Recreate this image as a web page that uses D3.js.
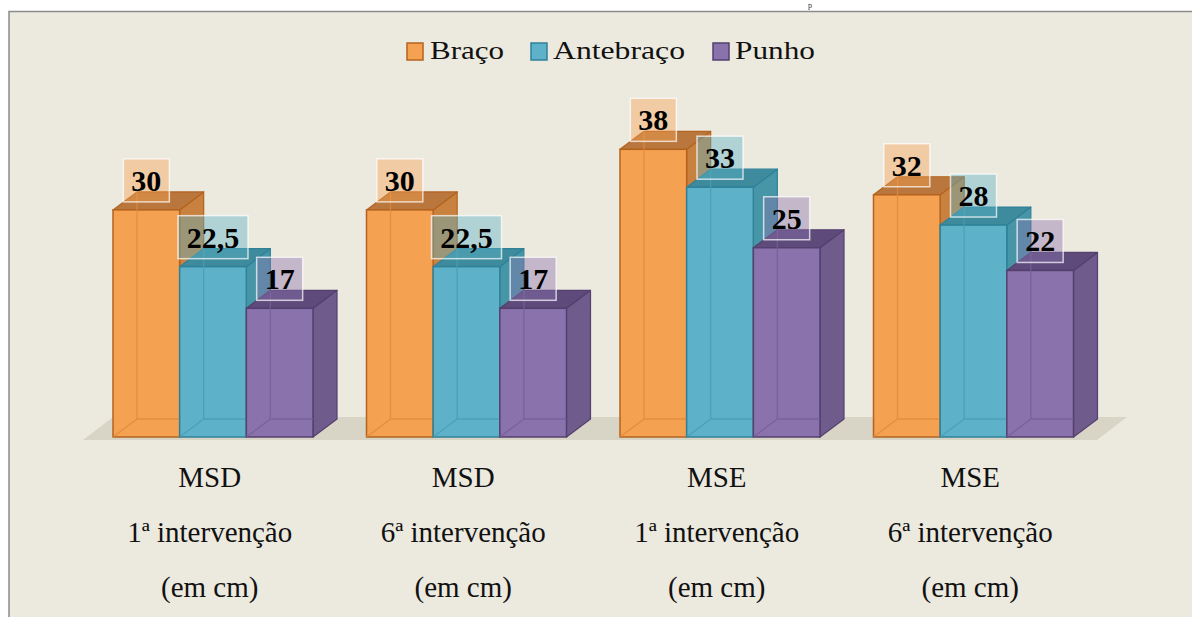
<!DOCTYPE html>
<html>
<head>
<meta charset="utf-8">
<script src="https://cdn.jsdelivr.net/npm/d3@7"></script>
<style>
  html, body { margin: 0; padding: 0; background: #ffffff; }
  svg { display: block; }
</style>
</head>
<body>
<svg id="chart" width="1192" height="617"></svg>
<script>
// ---- data ----
const categories = ["MSD 1ª", "MSD 6ª", "MSE 1ª", "MSE 6ª"];
const categoryLines = [
  ["MSD", "1ª intervenção", "(em cm)"],
  ["MSD", "6ª intervenção", "(em cm)"],
  ["MSE", "1ª intervenção", "(em cm)"],
  ["MSE", "6ª intervenção", "(em cm)"]
];
const seriesNames = ["Braço", "Antebraço", "Punho"];
const braco = [30, 30, 38, 32];
const antebraco = [22.5, 22.5, 33, 28];
const punho = [17, 17, 25, 22];
const seriesValues = [braco, antebraco, punho];

// ---- styles ----
const palette = [
  { front: "#F5A152", top: "#B9773E", side: "#C9813F", stroke: "#B4631F", inner: "#E08A3C" },
  { front: "#5DB2C9", top: "#3F8B9E", side: "#4796A8", stroke: "#2F8198", inner: "#4A9DB3" },
  { front: "#8A72AC", top: "#5E4B7C", side: "#705B8D", stroke: "#54406F", inner: "#765F98" }
];
const W = 1192, H = 617;
const serif = "Liberation Serif";
const dx = 24, dy = 18;

const svg = d3.select("#chart");

// page top strip + chart panel
svg.append("rect").attr("x", 0).attr("y", 0).attr("width", W).attr("height", H).attr("fill", "#ffffff");
svg.append("text").attr("x", 808).attr("y", 8).attr("font-family", serif).attr("font-size", 8)
  .attr("fill", "#333").text("p");
svg.append("rect").attr("x", 9).attr("y", 11.5).attr("width", W + 10).attr("height", H)
  .attr("fill", "#ECE9DF").attr("stroke", "#8c8c8c").attr("stroke-width", 1.5);

// ---- scales ----
const x = d3.scaleBand().domain(categories).range([83, 1097]).paddingInner(0).paddingOuter(0);
const xs = d3.scaleBand().domain(seriesNames).range([30, 230]).padding(0);
const y = d3.scaleLinear().domain([0, 40]).range([437, 134.2]);

// ---- floor ----
const fx0 = x.range()[0], fx1 = x.range()[1];
svg.append("polygon")
  .attr("points", [[fx0, 440], [fx1, 440], [fx1 + 30, 417], [fx0 + 30, 417]].map(p => p.join(",")).join(" "))
  .attr("fill", "#D8D5C6");

// ---- bars ----
const fmt = v => String(v).replace(".", ",");
const plot = svg.append("g");
categories.forEach((cat, ci) => {
  const g = plot.append("g");
  seriesNames.forEach((s, si) => {
    const v = seriesValues[si][ci];
    const c = palette[si];
    const x0 = x(cat) + xs(s);
    const w = xs.bandwidth();
    const y0 = y(v), yb = y(0);
    const pts = a => a.map(p => p.join(",")).join(" ");
    g.append("polygon").attr("points", pts([[x0 + w, y0], [x0 + w + dx, y0 - dy], [x0 + w + dx, yb - dy], [x0 + w, yb]]))
      .attr("fill", c.side).attr("stroke", c.stroke).attr("stroke-width", 1.2).attr("stroke-linejoin", "round");
    g.append("polygon").attr("points", pts([[x0, y0], [x0 + w, y0], [x0 + w + dx, y0 - dy], [x0 + dx, y0 - dy]]))
      .attr("fill", c.top).attr("stroke", c.stroke).attr("stroke-width", 1.2).attr("stroke-linejoin", "round");
    g.append("rect").attr("x", x0).attr("y", y0).attr("width", w).attr("height", yb - y0)
      .attr("fill", c.front).attr("stroke", c.stroke).attr("stroke-width", 1.5);
    const hid = g.append("g").attr("stroke", c.inner).attr("stroke-width", 1.3).attr("opacity", 0.8).attr("fill", "none");
    hid.append("line").attr("x1", x0 + dx).attr("y1", y0 - dy).attr("x2", x0 + dx).attr("y2", yb - dy);
    hid.append("line").attr("x1", x0 + dx).attr("y1", yb - dy).attr("x2", x0 + w).attr("y2", yb - dy);
    hid.append("line").attr("x1", x0).attr("y1", yb).attr("x2", x0 + dx).attr("y2", yb - dy);
  });
});

// ---- value labels ----
categories.forEach((cat, ci) => {
  seriesNames.forEach((s, si) => {
    const v = seriesValues[si][ci];
    const c = palette[si];
    const cx = x(cat) + xs(s) + xs.bandwidth() / 2;
    const label = fmt(v);
    const bw = label.length > 2 ? 70 : 46;
    const bh = 43;
    const by = y(v) - 8 - bh;
    svg.append("rect").attr("x", cx - bw / 2).attr("y", by).attr("width", bw).attr("height", bh)
      .attr("fill", c.front).attr("fill-opacity", 0.42)
      .attr("stroke", "#ffffff").attr("stroke-opacity", 0.7).attr("stroke-width", 1.5);
    svg.append("text").attr("x", cx).attr("y", by + 32).attr("text-anchor", "middle")
      .attr("font-family", serif).attr("font-weight", "bold").attr("font-size", 30)
      .attr("fill", "#000").text(label);
  });
});

// ---- category labels ----
categoryLines.forEach((lines, ci) => {
  const cx = x(categories[ci]) + x.bandwidth() / 2;
  lines.forEach((ln, li) => {
    svg.append("text").attr("x", cx).attr("y", 487 + li * 55).attr("text-anchor", "middle")
      .attr("font-family", serif).attr("font-size", 29).attr("fill", "#111").text(ln);
  });
});

// ---- legend ----
const legendItems = [
  { sq: 407, tx: 430, tw: 74 },
  { sq: 531, tx: 553, tw: 132 },
  { sq: 713, tx: 735, tw: 80 }
];
seriesNames.forEach((s, si) => {
  const L = legendItems[si];
  svg.append("rect").attr("x", L.sq).attr("y", 43).attr("width", 16).attr("height", 17)
    .attr("fill", palette[si].front).attr("stroke", palette[si].stroke).attr("stroke-width", 1.5);
  svg.append("text").attr("x", L.tx).attr("y", 59).attr("font-family", serif).attr("font-size", 26)
    .attr("textLength", L.tw).attr("lengthAdjust", "spacingAndGlyphs")
    .attr("fill", "#111").text(s);
});
</script>
</body>
</html>
